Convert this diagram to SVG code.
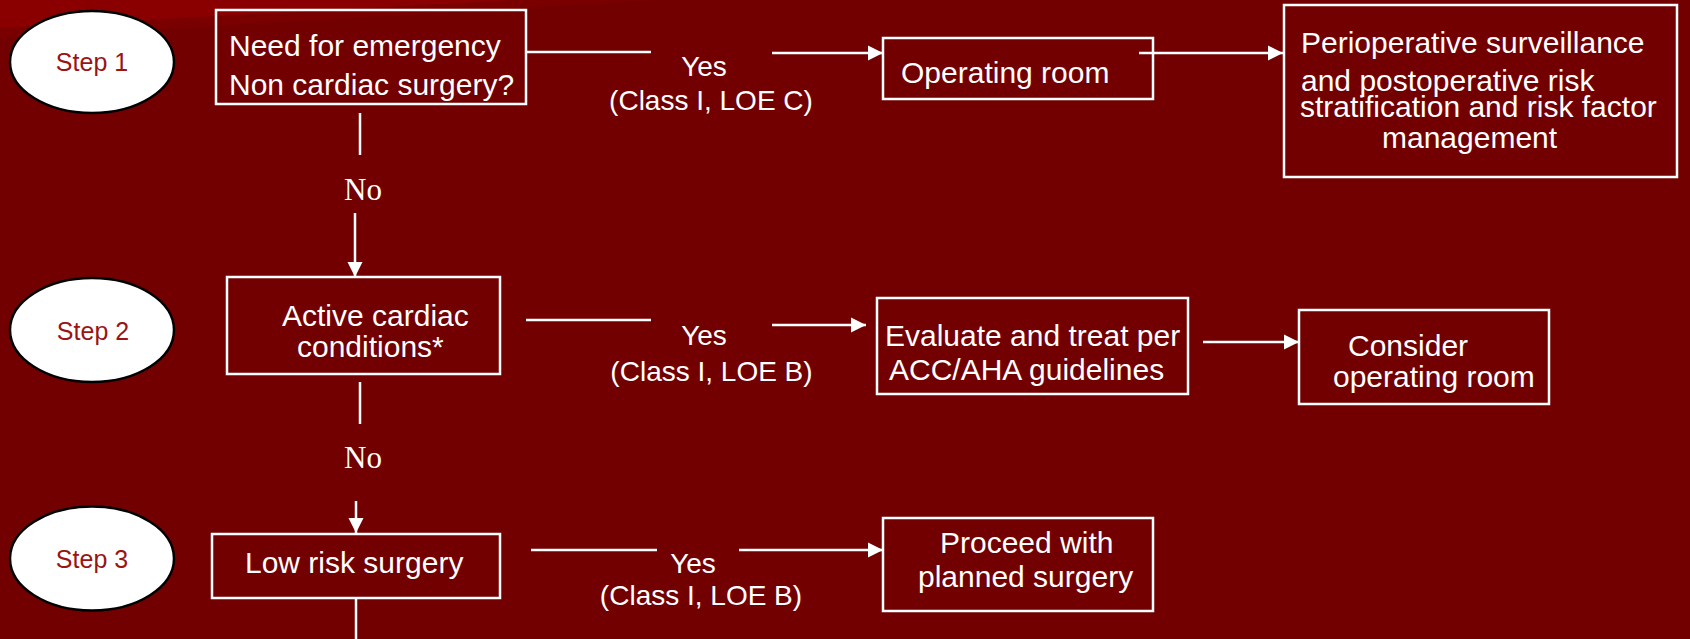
<svg xmlns="http://www.w3.org/2000/svg" width="1690" height="639" viewBox="0 0 1690 639">
<defs>
<style>
.box{fill:none;stroke:#fff;stroke-width:2.5}
.step{fill:#fff;stroke:#000;stroke-width:2.5}
.st{font-family:"Liberation Sans",Arial,sans-serif;font-size:25px;fill:#9a1414;text-anchor:middle}
.bt{font-family:"Liberation Sans",Arial,sans-serif;font-size:30px;fill:#fff}
.lb{font-family:"Liberation Sans",Arial,sans-serif;font-size:28px;fill:#fff;text-anchor:middle}
.no{font-family:"Liberation Serif","Times New Roman",serif;font-size:31px;fill:#fff;text-anchor:middle}
.ln{stroke:#fff;stroke-width:2.5;fill:none}
</style>
<marker id="ah" markerUnits="userSpaceOnUse" markerWidth="16" markerHeight="16" viewBox="0 0 16 16" refX="15" refY="8" orient="auto">
<path d="M0,0.5 L15,8 L0,15.5 Z" fill="#fff"/>
</marker>
</defs>
<rect width="1690" height="639" fill="#720000"/>
<polygon points="0,0 520,0 0,28" fill="#8a0000"/>
<polygon points="0,28 520,0 660,0 0,38" fill="#7a0000"/>

<g id="step1"><ellipse class="step" cx="92" cy="62" rx="82" ry="51"/><text class="st" x="92" y="71">Step 1</text></g>
<g id="step2"><ellipse class="step" cx="92" cy="330" rx="82" ry="52"/><text class="st" x="93" y="340">Step 2</text></g>
<g id="step3"><ellipse class="step" cx="92" cy="558.5" rx="82" ry="52"/><text class="st" x="92" y="568">Step 3</text></g>

<g id="emergency"><rect class="box" x="216" y="10" width="310" height="94"/>
<text class="bt" x="229" y="56">Need for emergency</text><text class="bt" x="229" y="95">Non cardiac surgery?</text></g>
<g id="operating-room"><rect class="box" x="883" y="38" width="270" height="61"/>
<text class="bt" x="901" y="83">Operating room</text></g>
<g id="perioperative"><rect class="box" x="1284" y="5" width="393" height="172"/>
<text class="bt" x="1301" y="53">Perioperative surveillance</text>
<text class="bt" x="1301" y="91">and postoperative risk</text>
<text class="bt" x="1300" y="117">stratification and risk factor</text>
<text class="bt" x="1382" y="148">management</text></g>

<g id="active-cardiac"><rect class="box" x="227" y="277" width="273" height="97"/>
<text class="bt" x="282" y="326">Active cardiac</text><text class="bt" x="297" y="357">conditions*</text></g>
<g id="evaluate"><rect class="box" x="877" y="298" width="311" height="96"/>
<text class="bt" x="885" y="346">Evaluate and treat per</text><text class="bt" x="889" y="380">ACC/AHA guidelines</text></g>
<g id="consider"><rect class="box" x="1299" y="310" width="250" height="94"/>
<text class="bt" x="1348" y="356">Consider</text><text class="bt" x="1333" y="387">operating room</text></g>

<g id="low-risk"><rect class="box" x="212" y="534" width="288" height="64"/>
<text class="bt" x="245" y="573">Low risk surgery</text></g>
<g id="proceed"><rect class="box" x="883" y="518" width="270" height="93"/>
<text class="bt" x="940" y="553">Proceed with</text><text class="bt" x="918" y="587">planned surgery</text></g>

<g id="connectors">
<line class="ln" x1="527" y1="52" x2="651" y2="52"/>
<line class="ln" x1="772" y1="53" x2="883" y2="53" marker-end="url(#ah)"/>
<text class="lb" x="704" y="76">Yes</text><text class="lb" x="711" y="110">(Class I, LOE C)</text>
<line class="ln" x1="1139" y1="53" x2="1283" y2="53" marker-end="url(#ah)"/>
<line class="ln" x1="360" y1="113" x2="360" y2="155"/>
<text class="no" x="363" y="200">No</text>
<line class="ln" x1="355" y1="213" x2="355" y2="277" marker-end="url(#ah)"/>

<line class="ln" x1="526" y1="320" x2="651" y2="320"/>
<line class="ln" x1="772" y1="325" x2="866" y2="325" marker-end="url(#ah)"/>
<text class="lb" x="704" y="345">Yes</text><text class="lb" x="711.5" y="381">(Class I, LOE B)</text>
<line class="ln" x1="1203" y1="342" x2="1299" y2="342" marker-end="url(#ah)"/>
<line class="ln" x1="360" y1="382" x2="360" y2="424"/>
<text class="no" x="363" y="468">No</text>
<line class="ln" x1="356" y1="501" x2="356" y2="533" marker-end="url(#ah)"/>

<line class="ln" x1="531" y1="550" x2="657" y2="550"/>
<line class="ln" x1="739" y1="550" x2="883" y2="550" marker-end="url(#ah)"/>
<text class="lb" x="693" y="573">Yes</text><text class="lb" x="701" y="605">(Class I, LOE B)</text>
<line class="ln" x1="356" y1="598" x2="356" y2="639"/>
</g>
</svg>
